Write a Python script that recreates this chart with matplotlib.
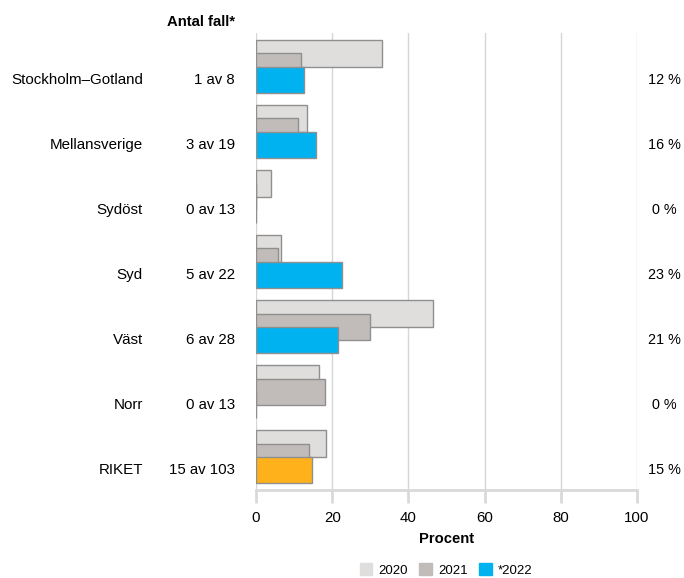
import numpy as np
import matplotlib
matplotlib.use("Agg")
import matplotlib.pyplot as plt
from matplotlib.patches import Patch
import matplotlib.transforms as mtransforms

plt.rcParams['font.family'] = ['Liberation Sans', 'DejaVu Sans']

regions = ['Stockholm–Gotland', 'Mellansverige', 'Sydöst', 'Syd', 'Väst', 'Norr', 'RIKET']
counts = ['1 av 8', '3 av 19', '0 av 13', '5 av 22', '6 av 28', '0 av 13', '15 av 103']
pct_2020 = [33.1, 13.4, 3.9, 6.6, 46.5, 16.5, 18.4]
pct_2021 = [11.8, 11.0, 0.0, 5.8, 29.9, 18.1, 13.9]
pct_2022 = [12.5, 15.8, 0.0, 22.7, 21.4, 0.0, 14.6]
pct_labels = ['12 %', '16 %', '0 %', '23 %', '21 %', '0 %', '15 %']

c2020 = '#DFDEDD'
c2021 = '#C1BCB9'
c2022 = '#00B2F0'
c_riket = '#FFB11B'
edge = '#8F8F8F'

fig = plt.figure(figsize=(6.84, 5.78), dpi=100)
ax = fig.add_axes([256 / 684, 1 - 490 / 578, 381 / 684, 457 / 578])

y = np.arange(len(regions))
h = 0.41
off = 0.205

# overlapping bars, later years drawn on top
ax.barh(y - off, pct_2020, height=h, color=c2020, edgecolor=edge, linewidth=1, zorder=3)
ax.barh(y, pct_2021, height=h, color=c2021, edgecolor=edge, linewidth=1, zorder=4)
colors_2022 = [c_riket if r == 'RIKET' else c2022 for r in regions]
ax.barh(y + off, pct_2022, height=h, color=colors_2022, edgecolor=edge, linewidth=1, zorder=5)

ax.set_xlim(0, 100)
ax.set_ylim(len(regions) - 0.49, -0.52)
ax.set_xticks([0, 20, 40, 60, 80, 100])
ax.set_yticks([])
ax.grid(axis='x', color='#D6D6D6', linewidth=1, zorder=0)
for s in ['left', 'right', 'top']:
    ax.spines[s].set_visible(False)
ax.spines['bottom'].set_color('#D9D9D9')
ax.spines['bottom'].set_linewidth(2)
ax.tick_params(axis='x', length=9, width=2, color='#D9D9D9', labelsize=10.8, pad=6)
ax.set_xlabel('Procent', fontsize=10.6, fontweight='bold', labelpad=5)

trans = mtransforms.blended_transform_factory(ax.transAxes, ax.transData)
for i in range(len(regions)):
    yy = y[i] + off
    ax.text(-0.297, yy, regions[i], transform=trans, ha='right', va='center', fontsize=10.9)
    ax.text(-0.055, yy, counts[i], transform=trans, ha='right', va='center', fontsize=10.8)
    ax.text(1.071, yy, pct_labels[i], transform=trans, ha='center', va='center', fontsize=10.4)

ax.text(-0.055, 1.024, 'Antal fall*', transform=ax.transAxes, ha='right', va='center',
        fontsize=10.7, fontweight='bold')

handles = [Patch(color=c2020, label='2020'), Patch(color=c2021, label='2021'),
           Patch(color=c2022, label='*2022')]
fig.legend(handles=handles, loc='center', bbox_to_anchor=(446 / 684, 1 - 570 / 578), ncol=3,
           frameon=False, fontsize=9.5, handlelength=0.95, handleheight=0.95,
           handletextpad=0.45, columnspacing=0.9)

fig.savefig('out.png', dpi=100)
